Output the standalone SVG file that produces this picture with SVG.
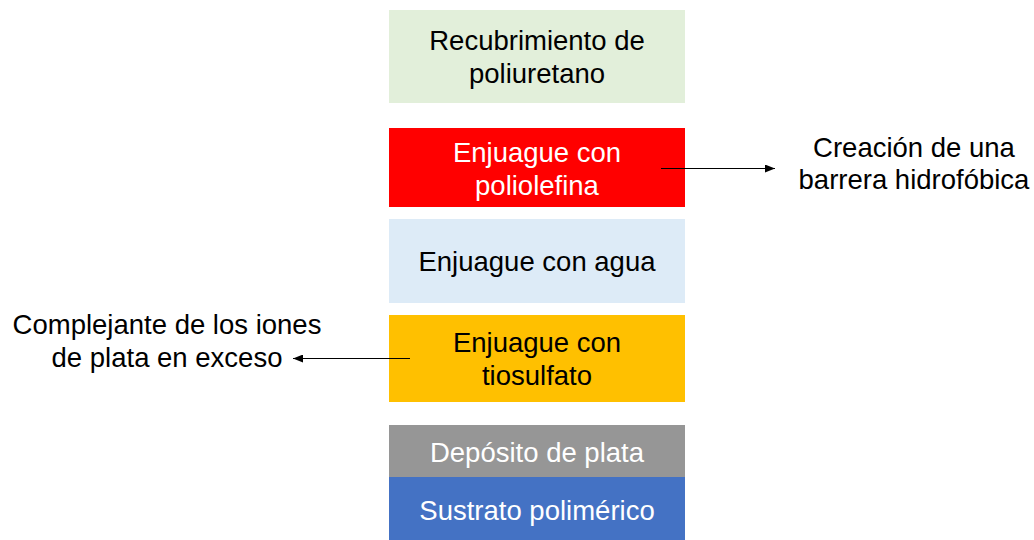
<svg xmlns="http://www.w3.org/2000/svg" width="1034" height="540" viewBox="0 0 1034 540">
<style>
text{font-family:"Liberation Sans",Arial,sans-serif;font-size:27.5px;text-anchor:middle}
.dk{fill:#000}
.wh{fill:#fff}
.conn{stroke:#000;stroke-width:1.2;fill:none}
</style>
<defs>
<marker id="ah" markerWidth="10" markerHeight="8" refX="10" refY="4" orient="auto" markerUnits="userSpaceOnUse">
<path d="M0,0 L10,4 L0,8 Z" fill="#000"/>
</marker>
</defs>
<rect width="1034" height="540" fill="#fff"/>
<g id="n-poliuretano">
<rect x="389" y="10" width="296" height="93" fill="#E2EFDA"/>
<text class="dk" x="537" y="50">Recubrimiento de</text>
<text class="dk" x="537" y="83">poliuretano</text>
</g>
<g id="n-poliolefina">
<rect x="389" y="128" width="296" height="79" fill="#FF0000"/>
<text class="wh" x="537" y="162">Enjuague con</text>
<text class="wh" x="537" y="195">poliolefina</text>
</g>
<g id="n-agua">
<rect x="389" y="219" width="296" height="84" fill="#DDEBF7"/>
<text class="dk" x="537" y="271">Enjuague con agua</text>
</g>
<g id="n-tiosulfato">
<rect x="389" y="315" width="296" height="87" fill="#FFC000"/>
<text class="dk" x="537" y="352">Enjuague con</text>
<text class="dk" x="537" y="385">tiosulfato</text>
</g>
<g id="n-plata">
<rect x="389" y="425" width="296" height="52" fill="#969696"/>
<text class="wh" x="537" y="462">Depósito de plata</text>
</g>
<g id="n-sustrato">
<rect x="389" y="477" width="296" height="63" fill="#4472C4"/>
<text class="wh" x="537" y="520">Sustrato polimérico</text>
</g>
<g id="n-barrera">
<text class="dk" x="914" y="157">Creación de una</text>
<text class="dk" x="914" y="189">barrera hidrofóbica</text>
</g>
<g id="n-complejante">
<text class="dk" x="167" y="334">Complejante de los iones</text>
<text class="dk" x="167" y="367">de plata en exceso</text>
</g>
<g id="connectors">
<line class="conn" x1="661" y1="168.5" x2="775" y2="168.5" marker-end="url(#ah)"/>
<line class="conn" x1="410" y1="358.5" x2="293" y2="358.5" marker-end="url(#ah)"/>
</g>
</svg>
